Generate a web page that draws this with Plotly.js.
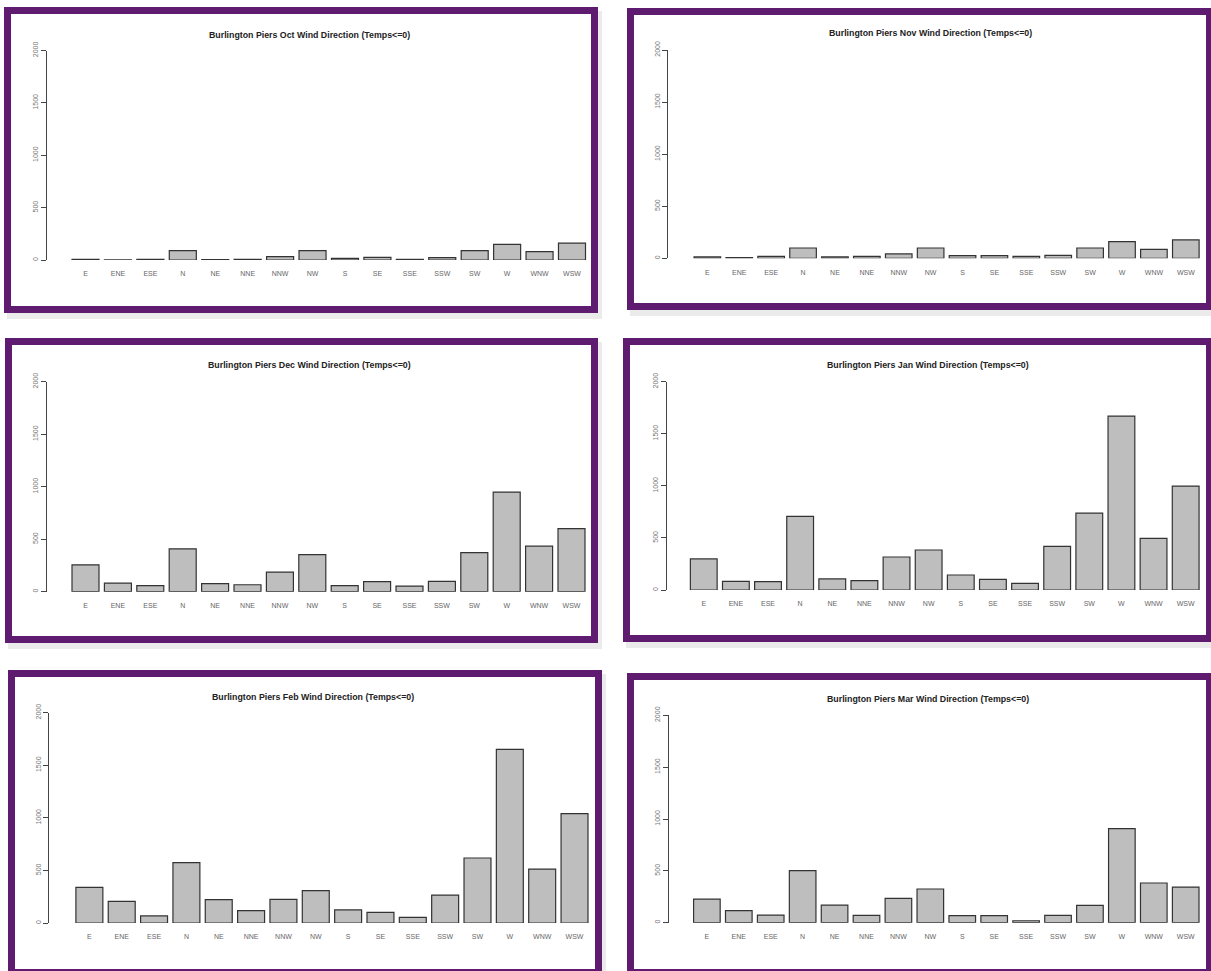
<!DOCTYPE html>
<html>
<head>
<meta charset="utf-8">
<script src="https://cdn.plot.ly/plotly-3.0.1.min.js"></script>
<style>
  html, body { margin: 0; padding: 0; background: #ffffff; }
  #chart { width: 1211px; height: 971px; }
</style>
</head>
<body>
<div id="chart"></div>
<script>
// Wind direction categories (alphabetical, as tabulated)
const directions = ['E', 'ENE', 'ESE', 'N', 'NE', 'NNE', 'NNW', 'NW', 'S', 'SE', 'SSE', 'SSW', 'SW', 'W', 'WNW', 'WSW'];

// Hourly observation counts with temperature <= 0, per month
const octCounts = [6, 2, 6, 89, 4, 6, 32, 89, 16, 26, 6, 22, 89, 150, 79, 162];
const novCounts = [13, 6, 19, 99, 13, 19, 42, 99, 26, 26, 19, 29, 99, 160, 86, 176];
const decCounts = [256, 82, 57, 408, 76, 66, 187, 354, 57, 95, 54, 98, 373, 949, 434, 601];
const janCounts = [298, 83, 80, 707, 106, 90, 317, 384, 144, 102, 64, 419, 739, 1670, 496, 998];
const febCounts = [339, 206, 67, 574, 222, 117, 225, 307, 124, 101, 54, 266, 618, 1651, 513, 1040];
const marCounts = [228, 116, 74, 502, 170, 71, 235, 325, 68, 68, 19, 71, 167, 907, 383, 344];

const monthNames = ['Oct', 'Nov', 'Dec', 'Jan', 'Feb', 'Mar'];
const monthCounts = [octCounts, novCounts, decCounts, janCounts, febCounts, marCounts];
const yTicks = [0, 500, 1000, 1500, 2000];

// Page geometry (pixels)
const W = 1211, H = 971;
const px = x => x / W;
const py = y => 1 - y / H;

// Per-panel frame and plot-region placement
const panels = [
  { box: [4, 7, 598, 313],    axisX: 46.7,  barL: 72,    barR: 585.5,  y0: 260,   yTop: 50.5,  titleX: 309, titleY: 35 },
  { box: [627, 8, 1213, 310], axisX: 668.3, barL: 694.3, barR: 1204,   y0: 258.3, yTop: 50,    titleX: 930, titleY: 33 },
  { box: [5, 338, 598, 643],  axisX: 46.7,  barL: 72,    barR: 585,    y0: 591.7, yTop: 381.7, titleX: 309, titleY: 364.5 },
  { box: [623, 338, 1213, 642], axisX: 666.7, barL: 690.5, barR: 1202, y0: 590,   yTop: 381.7, titleX: 928, titleY: 364.5 },
  { box: [8, 670, 602, 976],  axisX: 49.4,  barL: 75.9,  barR: 588,    y0: 923,   yTop: 712.7, titleX: 313, titleY: 696.5 },
  { box: [627, 673, 1213, 976], axisX: 668.6, barL: 693.6, barR: 1199.5, y0: 922.7, yTop: 715.3, titleX: 928, titleY: 699 }
];

const bargap = 0.2 / 1.2;          // R barplot default space = 0.2
const halfBar = (1 - bargap) / 2;
const fontFamily = 'Liberation Sans, Arial, Helvetica, sans-serif';

const traces = [];
const layout = {
  width: W, height: H,
  margin: { l: 0, r: 0, t: 0, b: 0 },
  paper_bgcolor: '#ffffff',
  plot_bgcolor: 'rgba(0,0,0,0)',
  showlegend: false,
  bargap: bargap,
  font: { family: fontFamily },
  shapes: [],
  annotations: []
};

panels.forEach((p, i) => {
  const n = i + 1;
  const xa = n === 1 ? 'x' : 'x' + n;
  const ya = n === 1 ? 'y' : 'y' + n;

  traces.push({
    type: 'bar',
    x: directions,
    y: monthCounts[i],
    xaxis: xa, yaxis: ya,
    marker: { color: '#bebebe', line: { color: '#333333', width: 1.2 } },
    hoverinfo: 'x+y'
  });

  // category axis scaled so bar edges land on the plot region
  const unit = (p.barR - p.barL) / (directions.length - 1 + 2 * halfBar);
  const rightPx = p.barR + 12;
  const xMin = -halfBar - (p.barL - p.axisX) / unit;
  const xMax = (directions.length - 1) + halfBar + (rightPx - p.barR) / unit;

  layout['xaxis' + (n === 1 ? '' : n)] = {
    domain: [px(p.axisX), px(rightPx)],
    anchor: ya,
    range: [xMin, xMax],
    type: 'category',
    showline: false, showgrid: false, zeroline: false,
    ticks: 'outside', ticklen: 7, tickcolor: 'rgba(0,0,0,0)',
    tickfont: { size: 7, color: '#666666', family: fontFamily },
    fixedrange: true
  };
  layout['yaxis' + (n === 1 ? '' : n)] = {
    domain: [py(p.y0), py(p.yTop)],
    anchor: xa,
    range: [0, 2000],
    showline: true, linecolor: '#444444', linewidth: 1,
    showgrid: false, zeroline: false,
    ticks: 'outside', ticklen: 5, tickcolor: '#444444', tickwidth: 1,
    tickmode: 'array', tickvals: yTicks, ticktext: yTicks.map(String),
    tickangle: -90,
    tickfont: { size: 7, color: '#777777', family: fontFamily },
    fixedrange: true
  };

  layout.annotations.push({
    xref: 'paper', yref: 'paper',
    x: px(p.titleX), y: py(p.titleY),
    xanchor: 'center', yanchor: 'middle',
    showarrow: false,
    text: '<b>Burlington Piers ' + monthNames[i] + ' Wind Direction (Temps&lt;=0)</b>',
    font: { size: 8.8, color: '#222222', family: fontFamily }
  });

  const [x0, y0, x1, y1] = p.box;
  const t = 7;
  // soft drop shadow behind the frame
  layout.shapes.push({
    type: 'rect', xref: 'paper', yref: 'paper', layer: 'below',
    x0: px(x0 + 3), x1: px(x1 + 4), y0: py(y1 + 6), y1: py(y0 + 4),
    line: { width: 0 }, fillcolor: 'rgba(0,0,0,0.08)'
  });
  layout.shapes.push({
    type: 'rect', xref: 'paper', yref: 'paper', layer: 'below',
    x0: px(x0), x1: px(x1), y0: py(y1), y1: py(y0),
    line: { width: 0 }, fillcolor: '#ffffff'
  });
  // purple frame
  layout.shapes.push({
    type: 'rect', xref: 'paper', yref: 'paper', layer: 'above',
    x0: px(x0 + t / 2), x1: px(x1 - t / 2), y0: py(y1 - t / 2), y1: py(y0 + t / 2),
    line: { width: t, color: '#5e1b70' }, fillcolor: 'rgba(0,0,0,0)'
  });
});

Plotly.newPlot('chart', traces, layout, { displayModeBar: false, staticPlot: true });
</script>
</body>
</html>
